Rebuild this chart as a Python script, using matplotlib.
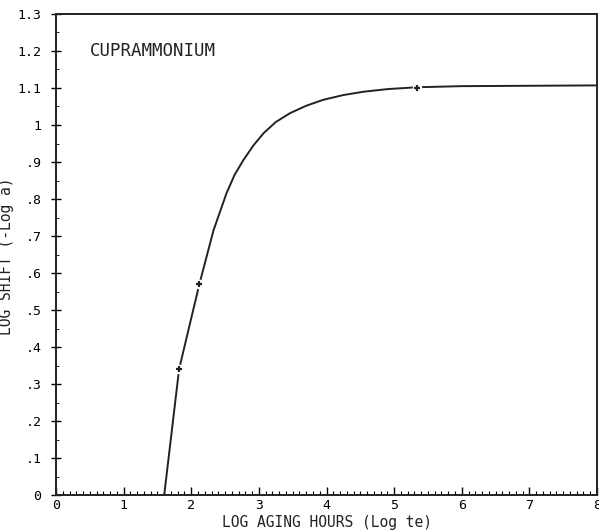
import numpy as np
import matplotlib
matplotlib.use("Agg")
import matplotlib.pyplot as plt
from matplotlib.ticker import MultipleLocator, FixedLocator

plt.rcParams['font.family'] = ['DejaVu Sans Mono']

# curve
curve_x = [1.60, 1.82, 2.12, 2.33, 2.52, 2.64, 2.77, 2.92, 3.07, 3.25, 3.46, 3.70, 3.95, 4.25, 4.55, 4.90, 5.34, 6.0, 7.0, 8.0]
curve_y = [0.0, 0.34, 0.57, 0.716, 0.815, 0.865, 0.905, 0.945, 0.978, 1.008, 1.032, 1.052, 1.068, 1.081, 1.090, 1.097, 1.102, 1.105, 1.106, 1.107]

# measured points
pts_x = [1.82, 2.12, 5.34]
pts_y = [0.34, 0.57, 1.10]

y_ticks = [0.0, 0.1, 0.2, 0.3, 0.4, 0.5, 0.6, 0.7, 0.8, 0.9, 1.0, 1.1, 1.2, 1.3]
y_labels = ['0', '.1', '.2', '.3', '.4', '.5', '.6', '.7', '.8', '.9', '1', '1.1', '1.2', '1.3']

fig = plt.figure(figsize=(5.99, 5.32), dpi=100)
ax = fig.add_axes([0.0935, 0.0695, 0.9032, 0.9042])

ax.plot(curve_x, curve_y, color='#222222', lw=1.4, zorder=2)
# small white gaps round the plotted points, like the plotter did
ax.plot(pts_x, pts_y, 'o', ms=7, mfc='white', mec='none', zorder=3)
ax.plot(pts_x, pts_y, '+', ms=5, mew=1.6, color='#222222', zorder=4)

ax.set_xlim(0, 8)
ax.set_ylim(0, 1.3)

ax.xaxis.set_major_locator(MultipleLocator(1))
ax.xaxis.set_minor_locator(MultipleLocator(0.1))
ax.yaxis.set_major_locator(FixedLocator(y_ticks))
ax.set_yticklabels(y_labels)
ax.yaxis.set_minor_locator(MultipleLocator(0.05))

ax.tick_params(axis='x', which='major', direction='in', length=6, width=1, pad=3, labelsize=9.5)
ax.tick_params(axis='x', which='minor', direction='in', length=3, width=0.8)
ax.tick_params(axis='y', which='major', direction='inout', length=7, width=1, pad=7, labelsize=9.5)
ax.tick_params(axis='y', which='minor', direction='in', length=2, width=0.6)

for s in ax.spines.values():
    s.set_linewidth(1.4)
    s.set_color('#222222')

ax.text(0.5, 1.2, 'CUPRAMMONIUM', fontsize=12.5, va='center', ha='left', color='#222222')

ax.set_xlabel('LOG AGING HOURS (Log te)', fontsize=10.5, labelpad=2, color='#222222')
ax.set_ylabel('LOG SHIFT (-Log a)', fontsize=10.5, color='#222222')
ax.yaxis.set_label_coords(-0.078, 0.497)

fig.savefig('out.png', dpi=100)
